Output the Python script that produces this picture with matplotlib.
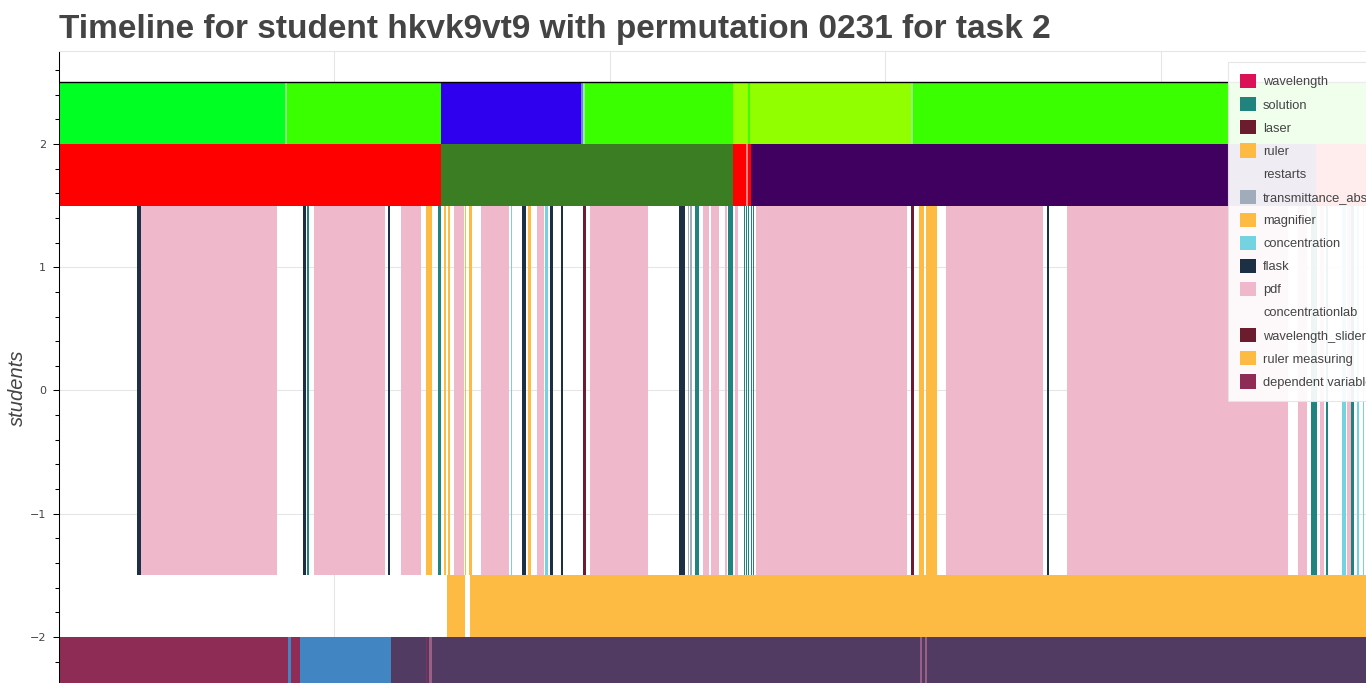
import matplotlib
matplotlib.use("Agg")
import matplotlib.pyplot as plt
from matplotlib.patches import Patch
from matplotlib.ticker import MultipleLocator

TITLE = "Timeline for student hkvk9vt9 with permutation 0231 for task 2"

# top lane: light wavelength (nm) set in the sim, "blend" = short in-between strips
light_start = [0, 410, 414, 693, 947, 951, 955, 1223, 1250, 1254, 1546, 1550]
light_end = [410, 414, 693, 947, 951, 955, 1223, 1250, 1254, 1546, 1550, 2400]
light_nm = ["507", "blend", "521", "430", "blend_b", "blend", "521", "547", "521", "545", "blend", "521"]

# second lane: solution chosen
sol_start = [0, 693, 1223, 1247, 1250, 1256, 2281]
sol_end = [693, 1223, 1247, 1250, 1256, 2281, 2400]
sol_name = ["Drink mix", "Nickel (II) chloride", "Drink mix", "Cobalt chloride", "Drink mix",
            "Potassium permanganate", "Drink mix"]

# middle lane: actions
act_start = [141.6, 149.7, 436.5, 442.3, 450.1, 462.8, 597.6, 620.2, 665.5, 687.3,
             698.7, 705.4, 717.4, 737.4, 744.1, 765.9, 820.3, 840.3, 851.7, 867.0,
             882.6, 891.7, 910.5, 951.0, 963.7, 1124.7, 1141.6, 1145.2, 1154.8, 1168.8,
             1183.3, 1208.7, 1213.6, 1226.8, 1242.6, 1247.7, 1251.3, 1255.5, 1259.5, 1264.4,
             1545.7, 1560.8, 1574.1, 1609.8, 1793.2, 1829.4, 2248.6, 2272.3, 2288.5, 2299.4,
             2327.9, 2337.7, 2344.9, 2355.1, 2366.0]
act_end = [148.8, 395.1, 438.3, 448.3, 454.6, 591.6, 600.7, 656.5, 677.0, 693.3,
           702.4, 710.1, 735.0, 738.7, 749.5, 816.7, 822.2, 847.6, 855.9, 879.6,
           886.7, 896.0, 915.3, 957.0, 1068.9, 1136.7, 1144.3, 1148.8, 1161.5, 1179.1,
           1197.3, 1212.4, 1223.8, 1231.7, 1245.5, 1249.5, 1252.8, 1257.8, 1261.3, 1538.4,
           1551.1, 1569.9, 1592.9, 1785.9, 1796.7, 2231.0, 2265.5, 2282.6, 2295.7, 2303.0,
           2335.7, 2344.0, 2350.4, 2359.3, 2368.0]
act_name = ["flask", "pdf", "transmittance_abs", "flask", "solution", "pdf", "flask", "pdf", "magnifier", "solution",
            "magnifier", "magnifier", "pdf", "magnifier", "magnifier", "pdf", "concentration", "flask", "magnifier", "pdf",
            "concentration", "flask", "flask", "laser", "pdf", "flask", "transmittance_abs", "transmittance_abs", "solution", "pdf",
            "pdf", "pdf", "solution", "pdf", "solution", "solution", "solution", "solution", "solution", "pdf",
            "laser", "magnifier", "magnifier", "pdf", "flask", "pdf", "pdf", "solution", "pdf", "solution",
            "concentration", "pdf", "solution", "concentration", "concentration"]

# ruler measuring lane
ruler_start = [704.2, 745.9, 852.1]
ruler_end = [736.9, 851.2, 2400]

# dependent variable lane
dep_start = [0, 415.6, 421.0, 437.9, 603.0, 665.5, 667.3, 671.5, 677.0, 1560.0,
             1561.5, 1563.5, 1567.1, 1572.5, 1576.1]
dep_end = [415.6, 421.0, 437.9, 603.0, 665.5, 667.3, 671.5, 677.0, 1560.0, 1561.5,
           1563.5, 1567.1, 1572.5, 1576.1, 2400]
dep_name = ["concentration", "width", "concentration", "width", "wavelength", "concentration", "wavelength", "other", "wavelength", "other",
            "wavelength", "other", "wavelength", "other", "wavelength"]

legend_names = ["wavelength", "solution", "laser", "ruler", "restarts", "transmittance_abs",
                "magnifier", "concentration", "flask", "pdf", "concentrationlab",
                "wavelength_slider", "ruler measuring", "dependent variable"]

# colours
light_colours = {"507": "#00FF22", "521": "#3AFF00", "430": "#2F00EE", "547": "#99FF00",
                 "545": "#91FF00", "blend": "#86FF7A", "blend_b": "#7777FF"}
sol_colours = {"Drink mix": "#FF0000", "Nickel (II) chloride": "#3A7D22",
               "Cobalt chloride": "#FF8484", "Potassium permanganate": "#3F0060"}
act_colours = {"wavelength": "#DC1257", "solution": "#20837E", "laser": "#6B1C2F", "ruler": "#FDBB43",
               "restarts": "none", "transmittance_abs": "#A1ACBA", "magnifier": "#FDBB43",
               "concentration": "#73D3E0", "flask": "#1C2F45", "pdf": "#EFB8CB",
               "concentrationlab": "none", "wavelength_slider": "#6B1C2F",
               "ruler measuring": "#FDBB43", "dependent variable": "#8E2C55"}
dep_colours = {"concentration": "#8E2C55", "width": "#4186C3", "wavelength": "#513B63", "other": "#9A5F85"}

TXT = "#444444"
GRID = "#E5E5E5"


def lane(ax, starts, ends, colours, y0, h):
    for s, e, c in zip(starts, ends, colours):
        ax.broken_barh([(s, e - s)], (y0, h), facecolors=c, linewidth=0, zorder=2)


fig = plt.figure(figsize=(13.66, 6.83), dpi=100)
ax = fig.add_axes([59 / 1366, -20 / 683, 1321 / 1366, 652 / 683])

lane(ax, light_start, light_end, [light_colours[v] for v in light_nm], 2.0, 0.5)
lane(ax, sol_start, sol_end, [sol_colours[v] for v in sol_name], 1.5, 0.5)
lane(ax, act_start, act_end, [act_colours[v] for v in act_name], -1.5, 3.0)
lane(ax, ruler_start, ruler_end, [act_colours["ruler measuring"]] * len(ruler_start), -2.0, 0.5)
lane(ax, dep_start, dep_end, [dep_colours[v] for v in dep_name], -2.5, 0.5)
ax.axhline(2.5, color="black", lw=1.0, zorder=3)

ax.set_xlim(0, 2397.5)
ax.set_ylim(-2.535, 2.754)
ax.xaxis.set_major_locator(MultipleLocator(500))
ax.yaxis.set_major_locator(MultipleLocator(1))
ax.yaxis.set_minor_locator(MultipleLocator(0.2))
ax.grid(True, which="major", color=GRID, lw=0.75, zorder=0)
ax.set_axisbelow(True)
ax.tick_params(axis="x", length=0, labelbottom=False)
ax.tick_params(axis="y", which="major", direction="out", length=4.3, width=0.75,
               labelsize=8, labelcolor=TXT, pad=5)
ax.tick_params(axis="y", which="minor", direction="out", length=2.9, width=0.75)
for side in ["right", "bottom"]:
    ax.spines[side].set_visible(False)
ax.spines["top"].set_color(GRID)
ax.spines["top"].set_linewidth(0.75)
ax.spines["left"].set_linewidth(0.75)

fig.text(59 / 1366, 1 - 38 / 683, TITLE, fontsize=24, fontweight="bold", color=TXT,
         family="Liberation Sans", va="baseline", ha="left")
fig.text(17 / 1366, 1 - 388 / 683, "students", rotation=90, style="italic", fontsize=14.5,
         color=TXT, family="Liberation Sans", va="center", ha="center")

handles = [Patch(facecolor=act_colours[n], edgecolor="none", label=n) for n in legend_names]
leg = ax.legend(handles=handles, loc="upper left", bbox_to_anchor=(1228 / 1366, 1 - 62 / 683),
                bbox_transform=fig.transFigure, borderaxespad=0,
                prop={"family": "Liberation Sans", "size": 9.3},
                handlelength=1.24, handleheight=1.32, labelspacing=0.67, handletextpad=0.54,
                borderpad=0.93, fancybox=False, framealpha=0.93, edgecolor=GRID, labelcolor=TXT)
leg.get_frame().set_linewidth(0.8)
leg.set_zorder(5)

fig.savefig("out.png", dpi=100)
